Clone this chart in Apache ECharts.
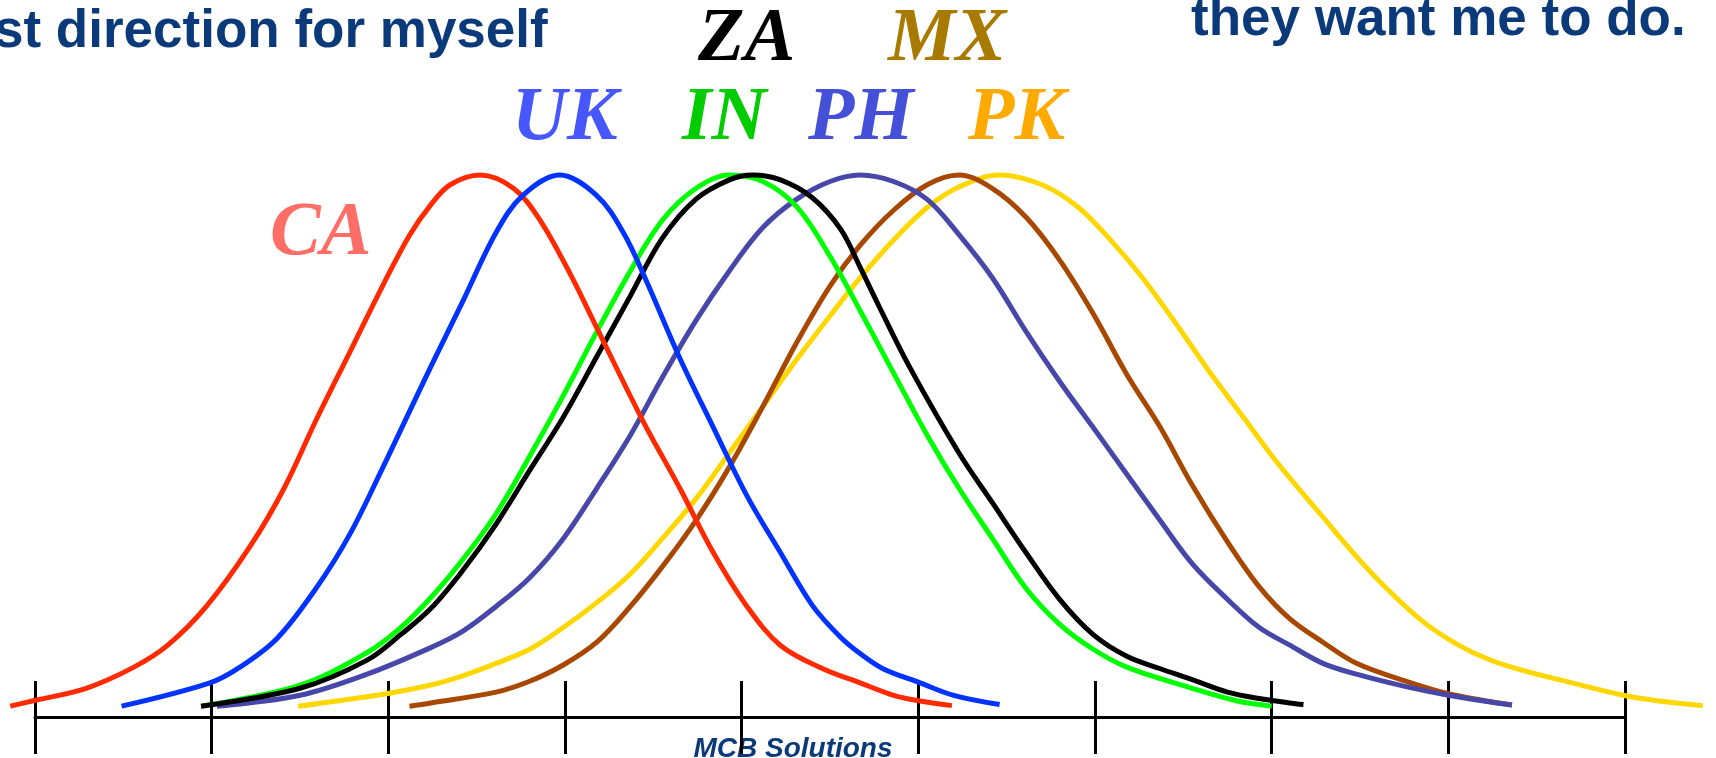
<!DOCTYPE html>
<html>
<head>
<meta charset="utf-8">
<script src="https://cdn.jsdelivr.net/npm/echarts@6/dist/echarts.min.js"></script>
<style>
html,body{margin:0;padding:0;background:#fff;}
#chart{width:1716px;height:758px;}
</style>
</head>
<body>
<div id="chart"></div>
<script>
// Axis ticks (positions along the horizontal scale)
const tickValues = [0, 1, 2, 3, 4, 5, 6, 7, 8, 9];

// Curve series (x position, height)
const caX = [-0.14, -0.01, 0.29, 0.56, 0.75, 0.97, 1.22, 1.41, 1.59, 1.78, 1.97, 2.12, 2.24, 2.35, 2.52, 2.71, 2.86, 3.03, 3.18, 3.44, 3.65, 3.84, 4.03, 4.22, 4.46, 4.67, 4.86, 5.0, 5.19];
const caY = [2, 3, 5.3, 9.2, 13.2, 20.4, 31.6, 42.2, 54.7, 67.2, 79.7, 88.9, 94.5, 98.2, 100, 97.5, 91.6, 81.7, 71.8, 54.7, 42.2, 30.3, 20.4, 13.2, 8.9, 6.3, 4.0, 3.0, 2.1];

const ukX = [0.49, 0.99, 1.16, 1.37, 1.59, 1.78, 1.97, 2.12, 2.24, 2.42, 2.61, 2.76, 2.97, 3.18, 3.33, 3.46, 3.65, 3.84, 4.03, 4.22, 4.40, 4.56, 4.67, 4.80, 5.01, 5.20, 5.46];
const ukY = [2.0, 6.3, 9.2, 14.5, 23.7, 33.6, 46.1, 56.4, 64.6, 76.6, 89.4, 96.2, 100, 96.2, 89.4, 80.5, 66.2, 53.4, 40.8, 30.3, 20.6, 14.7, 11.7, 8.9, 6.3, 4.0, 2.3];

const inX = [0.94, 1.50, 1.88, 2.07, 2.24, 2.42, 2.61, 2.80, 2.99, 3.18, 3.37, 3.55, 3.74, 3.93, 4.12, 4.31, 4.50, 4.67, 4.82, 5.05, 5.23, 5.42, 5.61, 5.80, 5.99, 6.18, 6.55, 6.80, 7.0];
const inY = [2.0, 5.9, 11.9, 16.5, 22, 29.0, 37.5, 48.1, 59.3, 71.1, 82.3, 91.6, 97.5, 100, 98.8, 94.2, 85.0, 75, 65.9, 52.0, 42.2, 32.9, 23.7, 17.1, 12.5, 9.2, 5.3, 3.0, 2.0];

const zaX = [0.94, 1.50, 1.88, 2.07, 2.24, 2.42, 2.61, 2.80, 2.99, 3.18, 3.37, 3.55, 3.74, 3.93, 4.06, 4.22, 4.40, 4.56, 4.67, 4.78, 4.95, 5.23, 5.42, 5.61, 5.80, 5.99, 6.18, 6.37, 6.55, 6.75, 6.93, 7.10, 7.18];
const zaY = [2.0, 5.3, 10.5, 15.2, 20, 27.0, 35.6, 45.5, 55.3, 66.5, 77.7, 88.3, 95.5, 99.1, 100, 99.1, 95.8, 90.0, 83.0, 75.6, 64.6, 48.7, 39.5, 30.3, 21.7, 15.2, 11.2, 8.9, 6.9, 4.6, 3.4, 2.6, 2.3];

const phX = [1.03, 1.50, 1.88, 2.24, 2.42, 2.61, 2.80, 2.99, 3.18, 3.37, 3.55, 3.74, 3.93, 4.12, 4.31, 4.50, 4.67, 4.86, 5.05, 5.23, 5.42, 5.61, 5.80, 5.99, 6.18, 6.37, 6.55, 6.75, 6.93, 7.10, 7.29, 7.48, 7.76, 8.0, 8.23, 8.36];
const phY = [2.0, 4.0, 7.9, 12.8, 15.8, 20.4, 25.7, 32.9, 42.2, 52.0, 62.6, 73.1, 82.3, 90.3, 95.5, 98.8, 100, 98.8, 95.5, 89.0, 81.0, 71.1, 61.9, 53.4, 44.8, 36.2, 28.3, 21.7, 16.5, 13.3, 9.9, 7.9, 5.6, 4.0, 2.8, 2.2];

const pkX = [1.49, 1.99, 2.24, 2.42, 2.61, 2.80, 2.99, 3.18, 3.37, 3.55, 3.74, 3.93, 4.12, 4.31, 4.50, 4.67, 4.86, 5.05, 5.23, 5.46, 5.70, 5.90, 6.08, 6.27, 6.46, 6.65, 6.84, 7.03, 7.29, 7.48, 7.67, 7.86, 8.05, 8.23, 8.42, 8.70, 8.99, 9.18, 9.44];
const pkY = [2.0, 4.3, 5.9, 7.6, 9.9, 12.5, 16.5, 21.1, 26.4, 32.9, 40.2, 48.7, 57.3, 65.9, 74.0, 81.0, 88.0, 94.0, 97.8, 100, 98.2, 94.2, 88.3, 81.0, 72.5, 63.6, 55.3, 47.0, 36.9, 29.6, 23.1, 17.5, 13.4, 10.6, 8.6, 6.3, 4.0, 3.0, 2.1];

const mxX = [2.12, 2.24, 2.61, 2.80, 2.99, 3.18, 3.37, 3.55, 3.74, 3.93, 4.12, 4.31, 4.50, 4.67, 4.86, 5.05, 5.23, 5.42, 5.61, 5.80, 5.99, 6.18, 6.37, 6.55, 6.75, 6.93, 7.10, 7.29, 7.48, 7.76, 8.0, 8.36];
const mxY = [2.0, 2.6, 4.6, 6.6, 9.6, 13.8, 20.4, 27.7, 36.2, 46.1, 57.3, 69.0, 79.5, 87.0, 93.5, 98.2, 100, 97.5, 92.2, 84.3, 74.4, 63.2, 53.4, 42.8, 32.3, 24.0, 18.2, 13.8, 9.9, 6.6, 4.3, 2.2];

// Country labels and texts
const countryNames = ['CA', 'UK', 'IN', 'ZA', 'PH', 'PK', 'MX'];
const headingLeft = 'st direction for myself';
const headingRight = 'they want me to do.';
const footerText = 'MCB Solutions';

const zip = (xs, ys) => xs.map((x, i) => [x, ys[i]]);

const chart = echarts.init(document.getElementById('chart'), null, {renderer: 'canvas'});

// layout: tick axis spans pixels 35..1625 of a 1716 wide canvas
const axisLeft = 35, axisRight = 91, W = 1716;
const unitPx = (W - axisLeft - axisRight) / (tickValues[tickValues.length - 1] - tickValues[0]);
const curveMin = tickValues[0] - axisLeft / unitPx;
const curveMax = tickValues[tickValues.length - 1] + axisRight / unitPx;

function curve(name, xs, ys, color, z) {
  return {
    name: name,
    type: 'line',
    xAxisIndex: 2, yAxisIndex: 1,
    data: zip(xs, ys),
    smooth: 0.35,
    showSymbol: false,
    clip: false,
    z: z,
    lineStyle: {color: color, width: 5, cap: 'butt', join: 'round'},
    silent: true
  };
}

const serifFont = 'italic bold 76px "Liberation Serif", "Times New Roman", serif';
const sansFont = 'bold 53px "Liberation Sans", Arial, sans-serif';

function label(text, x, y, color, font) {
  return {
    type: 'text', x: x, y: y, silent: true,
    style: {text: text, font: font, fill: color, textAlign: 'left', textVerticalAlign: 'middle', align: 'left', verticalAlign: 'middle'}
  };
}

const option = {
  animation: false,
  backgroundColor: '#ffffff',
  grid: [
    {left: axisLeft, right: axisRight, top: 175, bottom: 41, containLabel: false},
    {left: 0, right: 0, top: 175, bottom: 41, containLabel: false}
  ],
  xAxis: [
    {
      gridIndex: 0, type: 'value', min: tickValues[0], max: tickValues[tickValues.length - 1], interval: 1,
      position: 'bottom',
      axisLine: {show: true, onZero: false, lineStyle: {color: '#000', width: 3}},
      axisTick: {show: true, inside: false, length: 37, lineStyle: {color: '#000', width: 3}},
      axisLabel: {show: false}, splitLine: {show: false}
    },
    {
      gridIndex: 0, type: 'value', min: tickValues[0], max: tickValues[tickValues.length - 1], interval: 1,
      position: 'bottom', offset: 0,
      axisLine: {show: false, onZero: false},
      axisTick: {show: true, inside: true, length: 36, lineStyle: {color: '#000', width: 3}},
      axisLabel: {show: false}, splitLine: {show: false}
    },
    {
      gridIndex: 1, type: 'value', min: curveMin, max: curveMax, show: false
    }
  ],
  yAxis: [
    {gridIndex: 0, type: 'value', min: 0, max: 100, show: false},
    {gridIndex: 1, type: 'value', min: 0, max: 100, show: false}
  ],
  series: [
    curve('PK', pkX, pkY, '#FFD700', 2),
    curve('MX', mxX, mxY, '#A84800', 3),
    curve('PH', phX, phY, '#4747AA', 4),
    curve('IN', inX, inY, '#00FF00', 5),
    curve('ZA', zaX, zaY, '#000000', 6),
    curve('CA', caX, caY, '#FF2A00', 7),
    curve('UK', ukX, ukY, '#0033FF', 8)
  ],
  graphic: [
    label(headingLeft, -6, 32, '#0B3A7B', sansFont),
    label(headingRight, 1191, 20, '#0B3A7B', sansFont),
    label(countryNames[0], 270, 234, '#FF6E66', serifFont),
    label(countryNames[1], 512, 119, '#4757FF', serifFont),
    label(countryNames[2], 682, 119, '#00CC00', serifFont),
    label(countryNames[3], 698, 40, '#000000', serifFont),
    label(countryNames[4], 808, 119, '#4450D8', serifFont),
    label(countryNames[5], 968, 119, '#FFAA00', serifFont),
    label(countryNames[6], 888, 40, '#A87A00', serifFont),
    {
      type: 'text', x: 793, y: 749, silent: true,
      style: {text: footerText, font: 'italic bold 28px "Liberation Sans", Arial, sans-serif', fill: '#0B3A7B', textAlign: 'center', align: 'center', textVerticalAlign: 'middle', verticalAlign: 'middle'}
    }
  ]
};

chart.setOption(option);
</script>
</body>
</html>
